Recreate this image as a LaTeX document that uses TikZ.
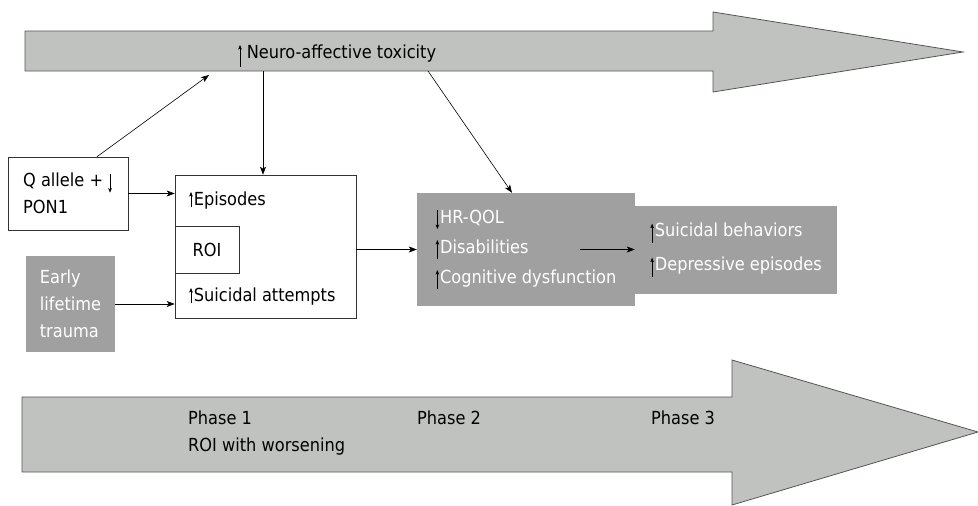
\documentclass[tikz,border=0pt]{standalone}
\usepackage{fontspec}
\setmainfont{DejaVu Sans Condensed}
\usetikzlibrary{arrows, arrows.meta}
\usetikzlibrary{positioning}
\definecolor{bandgray}{RGB}{192,194,192}
\definecolor{bandline}{RGB}{85,85,85}
\definecolor{boxgray}{RGB}{160,160,160}
\tikzstyle{band} = [draw=bandline, fill=bandgray, line width=0.8pt]
\tikzstyle{whitebox} = [rectangle, draw=black!80, line width=0.6pt, fill=white, align=left, inner sep=0pt]
\tikzstyle{greybox} = [rectangle, fill=boxgray, text=white, align=left, inner sep=0pt]
\tikzstyle{txt} = [inner sep=0pt, anchor=base west]
\tikzstyle{arrow} = [->,>={Stealth[length=8pt,width=6pt,inset=2pt]}, line width=0.6pt]
% thin up / down marks in front of the texts
\newcommand{\upmark}[1][4]{\tikz[baseline=0pt,x=1pt,y=1pt]\draw[->,>={Stealth[length=4.5pt,width=3.6pt,inset=1pt]},line width=0.6pt,black] (0,-#1) -- (0,13);\kern1pt}
\newcommand{\downmark}[1][4]{\tikz[baseline=0pt,x=1pt,y=1pt]\draw[->,>={Stealth[length=4.5pt,width=3.6pt,inset=1pt]},line width=0.6pt,black] (0,13) -- (0,-#1);\kern1pt}

\begin{document}
\begin{tikzpicture}[x=1pt, y=-1pt, font=\fontsize{18}{27}\selectfont]
	\useasboundingbox (0,0) rectangle (978,506);

	% phase bands
	\draw [band] (25,31) -- (713,31) -- (713,12) -- (963,52) -- (713,92) -- (713,71) -- (25,71) -- cycle;
	\draw [band] (22,397) -- (732,397) -- (732,360) -- (978,432) -- (732,505) -- (732,472) -- (22,472) -- cycle;

	\node (tox) [txt] at (238,58) {\upmark[9]\kern4pt Neuro-affective toxicity};
	\node (phase1) [txt] at (188,424) {Phase 1};
	\node (roi_worse) [txt] at (188,451) {ROI with worsening};
	\node (phase2) [txt] at (417,424) {Phase 2};
	\node (phase3) [txt] at (651,424) {Phase 3};

	% boxes
	\node (q_allele) [whitebox, minimum width=120, minimum height=73] at (68,193.5) {Q allele + \downmark[6]\\PON1};
	\node (trauma) [greybox, minimum width=89, minimum height=96] at (70.5,304) {Early\\lifetime\\trauma};
	\node (episodes_box) [whitebox, minimum width=181, minimum height=143] at (265.5,246.5) {};
	\node (roi) [whitebox, minimum width=64, minimum height=47] at (207,249.5) {ROI};
	\node (episodes) [txt] at (189,205) {\upmark[2]Episodes};
	\node (attempts) [txt] at (189,301) {\upmark[2]Suicidal attempts};
	\node (hrqol) [greybox, minimum width=218, minimum height=113, font=\fontsize{18}{30}\selectfont] at (526,249.5) {\downmark[6]HR-QOL\\\upmark[6]Disabilities\\\upmark[6]Cognitive dysfunction};
	\node (behaviors) [greybox, minimum width=202, minimum height=88, font=\fontsize{18}{34}\selectfont] at (736,250) {\upmark[6]Suicidal behaviors\\\upmark[6]Depressive episodes};

	\coordinate (tox_in) at (209,75);
	\coordinate (tox_down) at (263,71);
	\coordinate (tox_diag) at (428,71);
	\coordinate (inner_start) at ([xshift=-55]hrqol.east);

	\draw [arrow] ([xshift=29]q_allele.north) -- (tox_in);
	\draw [arrow] (tox_down) -- (tox_down |- episodes_box.north);
	\draw [arrow] (tox_diag) -- ([xshift=-14]hrqol.north);
	\draw [arrow] (q_allele.east) -- (q_allele.east -| episodes_box.west);
	\draw [arrow] (trauma.east) -- (trauma.east -| episodes_box.west);
	\draw [arrow] (episodes_box.east |- roi) -- (roi -| hrqol.west);
	\draw [arrow] (inner_start) -- (inner_start -| behaviors.west);

\end{tikzpicture}
\end{document}
